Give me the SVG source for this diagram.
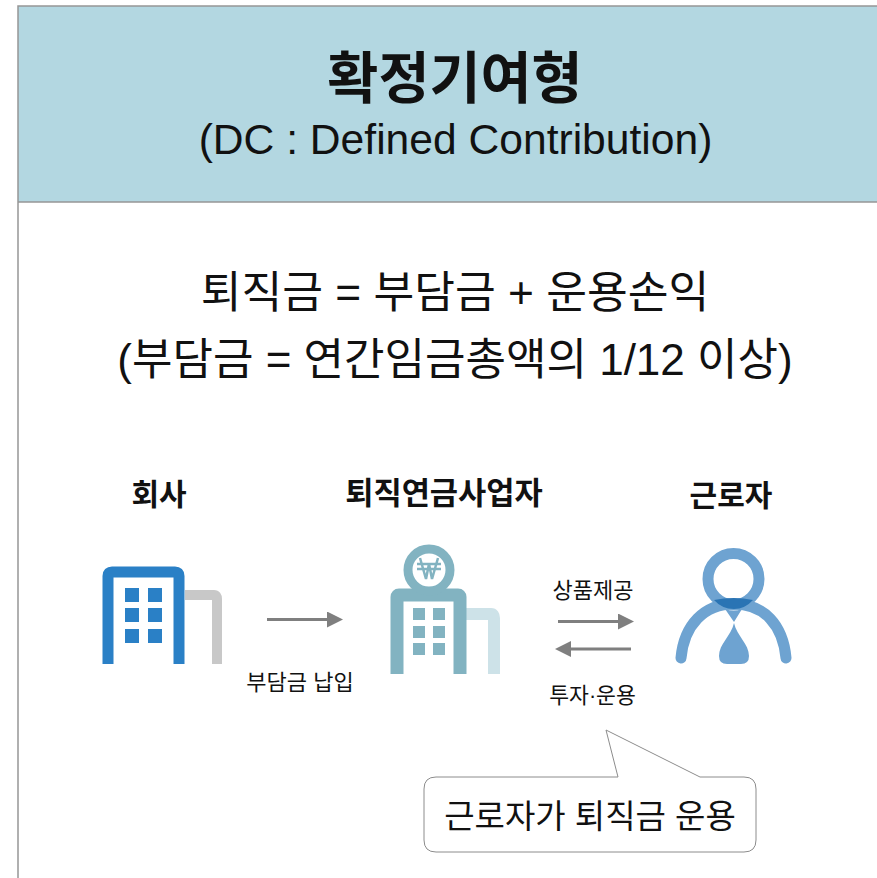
<svg xmlns="http://www.w3.org/2000/svg" width="877" height="878" viewBox="0 0 877 878">
<style>
text{font-family:"Liberation Sans","Noto Sans CJK KR",sans-serif;fill:#111;text-anchor:middle}
.b{font-weight:700}
.arr{stroke:#7f7f7f;stroke-width:3;fill:none;marker-end:url(#ah)}
</style>
<defs><marker id="ah" markerUnits="userSpaceOnUse" markerWidth="16" markerHeight="16" refX="2" refY="8" orient="auto"><path d="M0 0L16 8L0 16Z" fill="#7f7f7f"/></marker></defs>
<rect width="877" height="878" fill="#fff"/>
<g id="frame">
<rect x="18" y="6" width="860" height="196" fill="#b3d7e1"/>
<path d="M18 878V6H877M18 202H877" fill="none" stroke="#969696" stroke-width="1.5"/>
</g>
<g id="title">
<text class="b" x="455" y="98" font-size="55.500">확정기여형</text>
<text x="455.500" y="154" font-size="42.600">(DC : Defined Contribution)</text>
</g>
<g id="formula">
<text x="455" y="308" font-size="44.300">퇴직금 = 부담금 + 운용손익</text>
<text x="455" y="375" font-size="44">(부담금 = 연간임금총액의 1/12 이상)</text>
</g>
<g id="company">
<text class="b" x="159" y="505" font-size="30">회사</text>
<path d="M185 595H214Q217 595 217 599V664" fill="none" stroke="#c8c8c8" stroke-width="10"/>
<path d="M108 664V576Q108 572 112 572H175Q179 572 179 576V664" fill="none" stroke="#2a80c6" stroke-width="11"/>
<g fill="#2a80c6"><rect x="125" y="588" width="14" height="14"/><rect x="148" y="588" width="14" height="14"/><rect x="125" y="608" width="14" height="14"/><rect x="148" y="608" width="14" height="14"/><rect x="125" y="629" width="14" height="14"/><rect x="148" y="629" width="14" height="14"/></g>
</g>
<g id="provider">
<text class="b" x="444" y="504" font-size="30.700">퇴직연금사업자</text>
<path d="M466 614H491Q494 614 494 618V674" fill="none" stroke="#cde2e8" stroke-width="12"/>
<path d="M397 674V597Q397 595 399 595H458Q460 595 460 597V674" fill="none" stroke="#82b3c1" stroke-width="13"/>
<circle cx="429" cy="570" r="21" fill="#fff" stroke="#82b3c1" stroke-width="9"/>
<path d="M420 558L426 579L429 564L432 579L438 558M417 564H441M417 569H441" fill="none" stroke="#82b3c1" stroke-width="2.500"/>
<g fill="#82b3c1"><rect x="413" y="608" width="12" height="12"/><rect x="433" y="608" width="12" height="12"/><rect x="413" y="626" width="12" height="12"/><rect x="433" y="626" width="12" height="12"/><rect x="413" y="643" width="12" height="12"/><rect x="433" y="643" width="12" height="12"/></g>
</g>
<g id="worker">
<text class="b" x="731" y="506" font-size="30">근로자</text>
<path d="M681 658C684 625 704 604 734 604C764 604 783 625 786 658" fill="none" stroke="#6ea3d1" stroke-width="11" stroke-linecap="round"/>
<circle cx="733.500" cy="579" r="25.500" fill="none" stroke="#6ea3d1" stroke-width="11"/>
<path d="M714 600Q734 596 753 600Q745 609 734 609Q722 609 714 600Z" fill="#2a74b4"/>
<path d="M725 609Q734 612 742 609L734 622Z" fill="#6ea3d1"/>
<path d="M734 623C737 636 749 644 749 656Q749 664 741 664H727Q719 664 719 656C719 644 731 636 734 623Z" fill="#6ea3d1"/>
</g>
<g id="connectors">
<path class="arr" d="M267 619.500H329"/>
<path class="arr" d="M558 621.500H620"/>
<path class="arr" d="M631 649H569"/>
</g>
<g id="labels">
<text x="300" y="690" font-size="22">부담금 납입</text>
<text x="593" y="598" font-size="22">상품제공</text>
<text x="592.500" y="703" font-size="21.600">투자·운용</text>
</g>
<g id="callout">
<path d="M606 730L618 777H436Q424 777 424 789V840Q424 852 436 852H744Q756 852 756 840V789Q756 777 744 777H700Z" fill="#fff" stroke="#8c8c8c" stroke-width="1"/>
<text x="590" y="828" font-size="33">근로자가 퇴직금 운용</text>
</g>
</svg>
